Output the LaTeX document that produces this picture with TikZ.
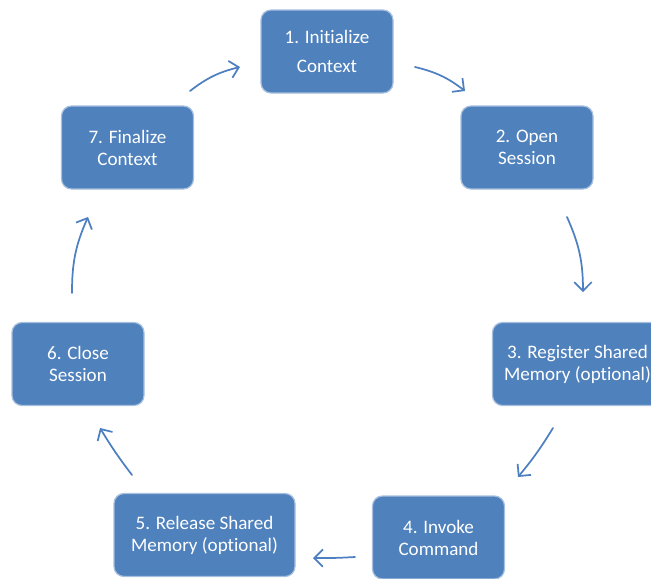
\documentclass[tikz,border=0pt]{standalone}
\usepackage{fontspec}
\setmainfont[Ligatures=NoCommon]{Carlito}
\usetikzlibrary{arrows.meta}
\definecolor{boxblue}{HTML}{4F81BD}
\definecolor{boxedge}{HTML}{A7C0DE}
\definecolor{arrowblue}{HTML}{4E80C1}
\tikzset{
  stepbox/.style={rectangle, rounded corners=7.5pt, fill=boxblue, draw=boxedge,
    line width=0.9pt, text=white, align=center, inner sep=0pt,
    minimum width=99pt, minimum height=62.25pt,
    font=\fontsize{14.3}{16.5}\selectfont},
  flow/.style={draw=arrowblue, line width=1.3pt, line cap=round,
    -{Straight Barb[length=6.5pt, width=13pt, line width=1.3pt]}}
}
\begin{document}
\begin{tikzpicture}[x=0.75pt, y=-0.75pt]
\useasboundingbox (0,0) rectangle (651,579);
\clip (0,0) rectangle (651,579);

% process steps
\node[stepbox] (init) at (327,51.5)
  {1. Initialize\\[5.25pt]Context};
\node[stepbox] (open) at (527,147.5) {2. Open\\Session};
\node[stepbox, minimum width=127.5pt] (reg) at (577.5,364)
  {3. Register Shared\\Memory (optional)};
\node[stepbox] (invoke) at (438.5,537.5) {4. Invoke\\Command};
\node[stepbox, minimum width=135.75pt] (rel) at (204.5,535)
  {5. Release Shared\\Memory (optional)};
\node[stepbox] (close) at (78,364) {6. Close\\Session};
\node[stepbox] (final) at (127.5,147.5) {7. Finalize\\Context};

% arrow end points between the steps
\coordinate (a1s) at (415,67);  \coordinate (a1e) at (465,91);
\coordinate (a2s) at (567,217); \coordinate (a2e) at (583,292);
\coordinate (a3s) at (553,428); \coordinate (a3e) at (518,477);
\coordinate (a4s) at (355,557); \coordinate (a4e) at (313,558);
\coordinate (a5s) at (132,475); \coordinate (a5e) at (100,428);
\coordinate (a6s) at (72,293);  \coordinate (a6e) at (88,217);
\coordinate (a7s) at (190,91);  \coordinate (a7e) at (240,67);

% clockwise cycle
\draw[flow] (a1s) to[bend left=12] (a1e);
\draw[flow] (a2s) to[bend left=12] (a2e);
\draw[flow] (a3s) to[bend left=4] (a3e);
\draw[flow] (a4s) to[bend left=2] (a4e);
\draw[flow] (a5s) to[bend left=3] (a5e);
\draw[flow] (a6s) to[bend left=12] (a6e);
\draw[flow] (a7s) to[bend left=12] (a7e);
\end{tikzpicture}
\end{document}
